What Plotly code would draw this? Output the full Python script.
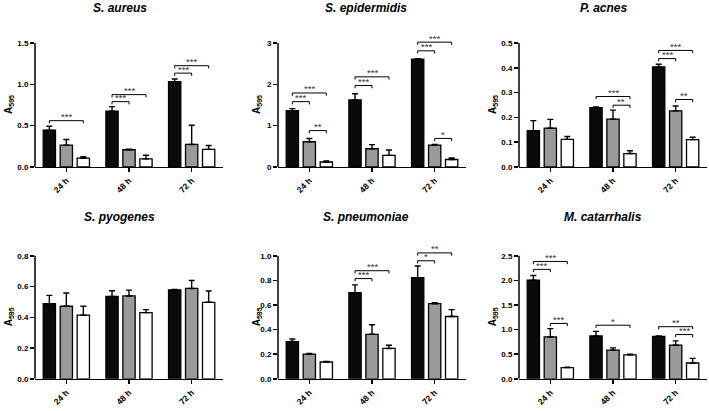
import plotly.graph_objects as go

W, H = 709, 411

categories = ["24 h", "48 h", "72 h"]
titles = ["S. aureus", "S. epidermidis", "P. acnes",
          "S. pyogenes", "S. pneumoniae", "M. catarrhalis"]

# series values per panel: black, gray, white (mean and upper SD)
black_vals = [[0.444, 0.674, 1.032], [1.36, 1.62, 2.61], [0.146, 0.239, 0.403],
              [0.489, 0.536, 0.579], [0.303, 0.700, 0.823], [2.004, 0.871, 0.865]]
black_err = [[0.048, 0.056, 0.032], [0.05, 0.15, 0.012], [0.041, 0.003, 0.011],
             [0.054, 0.037, 0.003], [0.021, 0.064, 0.094], [0.096, 0.094, 0.005]]
gray_vals = [[0.264, 0.208, 0.272], [0.61, 0.44, 0.53], [0.156, 0.193, 0.226],
             [0.472, 0.539, 0.588], [0.201, 0.362, 0.611], [0.851, 0.583, 0.684]]
gray_err = [[0.068, 0.006, 0.232], [0.08, 0.10, 0.015], [0.036, 0.036, 0.02],
            [0.086, 0.038, 0.052], [0.005, 0.078, 0.008], [0.169, 0.047, 0.087]]
white_vals = [[0.106, 0.098, 0.212], [0.12, 0.28, 0.18], [0.111, 0.054, 0.110],
              [0.414, 0.431, 0.498], [0.137, 0.247, 0.507], [0.228, 0.489, 0.322]]
white_err = [[0.018, 0.044, 0.048], [0.025, 0.13, 0.035], [0.012, 0.011, 0.01],
             [0.058, 0.019, 0.073], [0.005, 0.026, 0.056], [0.007, 0.011, 0.094]]

# y axis maxima and tick values
y_max = [1.5, 3.0, 0.5, 0.8, 1.0, 2.5]
y_ticks = [[0, 0.5, 1.0, 1.5], [0, 1, 2, 3], [0, 0.1, 0.2, 0.3, 0.4, 0.5],
           [0, 0.2, 0.4, 0.6, 0.8], [0, 0.2, 0.4, 0.6, 0.8, 1.0],
           [0, 0.5, 1.0, 1.5, 2.0, 2.5]]
y_fmt = [".1f", ".0f", ".1f", ".1f", ".1f", ".1f"]

# significance brackets: (group index, bar i, bar j, height, label)
brackets = [
    [(0, 0, 2, 0.56, "***"), (1, 0, 1, 0.79, "***"), (1, 0, 2, 0.875, "***"),
     (2, 0, 1, 1.135, "***"), (2, 0, 2, 1.225, "***")],
    [(0, 0, 1, 1.58, "***"), (0, 0, 2, 1.79, "***"), (0, 1, 2, 0.88, "**"),
     (1, 0, 1, 1.97, "***"), (1, 0, 2, 2.18, "***"),
     (2, 0, 1, 2.81, "***"), (2, 0, 2, 3.02, "***"), (2, 1, 2, 0.69, "*")],
    [(1, 0, 2, 0.284, "***"), (1, 1, 2, 0.249, "**"),
     (2, 0, 1, 0.437, "***"), (2, 0, 2, 0.47, "***"), (2, 1, 2, 0.272, "**")],
    [],
    [(1, 0, 1, 0.815, "***"), (1, 0, 2, 0.879, "***"),
     (2, 0, 1, 0.96, "*"), (2, 0, 2, 1.024, "**")],
    [(0, 0, 1, 2.225, "***"), (0, 0, 2, 2.386, "***"), (0, 1, 2, 1.126, "***"),
     (1, 0, 2, 1.09, "*"), (2, 0, 2, 1.06, "**"), (2, 1, 2, 0.90, "***")],
]

# ---------------- layout geometry (pixels) ----------------
FONT = "Liberation Sans"
col_px = [(35, 223), (278, 466), (519, 707)]
row_px = [(43.5, 169.0), (259.0, 383.5)]  # (pixel of y_max, pixel of zero)
HEAD = 1.08  # headroom factor so brackets above y_max stay visible
title_x_px = [120, 366, 603]
title_y_px = [8, 220]
ylab_x_px = [9, 257, 493]

BARGAP = 0.187
GROUPGAP = 0.277
slot = (1 - BARGAP) / 3

fills = ["#0a0a0a", "#9a9a9a", "#ffffff"]

fig = go.Figure()
layout = dict(
    width=W, height=H, margin=dict(l=0, r=0, t=0, b=0),
    paper_bgcolor="white", plot_bgcolor="white",
    barmode="group", bargap=BARGAP, bargroupgap=GROUPGAP,
    showlegend=False, font=dict(family=FONT, color="black"),
)
shapes = []
annotations = []

for p in range(6):
    r, c = divmod(p, 3)
    n = p + 1
    xs = "" if n == 1 else str(n)
    xname, yname = "x" + xs, "y" + xs
    series = [(black_vals[p], black_err[p]), (gray_vals[p], gray_err[p]),
              (white_vals[p], white_err[p])]
    for k, (vals, errs) in enumerate(series):
        fig.add_trace(go.Bar(
            x=[0, 1, 2], y=vals, xaxis=xname, yaxis=yname,
            marker=dict(color=fills[k], line=dict(color="#000000", width=1.3)),
            error_y=dict(type="data", symmetric=False, array=errs,
                         arrayminus=[0] * len(errs), color="#000000",
                         thickness=1.4, width=3),
            hoverinfo="skip",
        ))
    x0p, x1p = col_px[c]
    ytop, yzero = row_px[r]
    dom_top = yzero - (yzero - ytop) * HEAD
    layout["xaxis" + xs] = dict(
        domain=[x0p / W, x1p / W], range=[-0.5, 2.5], anchor=yname,
        tickmode="array", tickvals=[0, 1, 2], ticktext=categories,
        tickangle=-45, ticks="outside", ticklen=4, tickwidth=1.5,
        tickcolor="black", showline=True, linecolor="black", linewidth=1.5,
        showgrid=False, zeroline=False,
        tickfont=dict(family=FONT, size=8.5, weight="bold", color="black"),
    )
    layout["yaxis" + xs] = dict(
        domain=[1 - yzero / H, 1 - dom_top / H],
        range=[0, y_max[p] * HEAD], anchor=xname,
        tickmode="array", tickvals=y_ticks[p], tickformat=y_fmt[p],
        ticks="outside", ticklen=4, tickwidth=1.5, tickcolor="black",
        showline=False, showgrid=False, zeroline=False,
        tickfont=dict(family=FONT, size=8, weight="bold", color="black"),
    )
    # visible y-axis line ending at the top tick
    shapes.append(dict(type="line", xref=xname + " domain", yref=yname,
                       x0=0, x1=0, y0=0, y1=y_max[p],
                       line=dict(color="black", width=1.5)))
    # brackets
    d = y_max[p] * 0.022
    for (g, i, j, h, lab) in brackets[p]:
        xa = g + (i - 1) * slot
        xb = g + (j - 1) * slot
        shapes.append(dict(
            type="path", xref=xname, yref=yname,
            path=f"M {xa},{h - d} L {xa},{h} L {xb},{h} L {xb},{h - d}",
            line=dict(color="black", width=1)))
        annotations.append(dict(
            x=(xa + xb) / 2, y=h, xref=xname, yref=yname, text=lab,
            showarrow=False, yanchor="bottom", yshift=-3.5,
            font=dict(family=FONT, size=9.5, color="#333333")))
    # panel title
    annotations.append(dict(
        x=title_x_px[c] / W, y=1 - title_y_px[r] / H, xref="paper",
        yref="paper", text=f"<b><i>{titles[p]}</i></b>", showarrow=False,
        xanchor="center", yanchor="middle",
        font=dict(family=FONT, size=12, color="black")))
    # y-axis label
    annotations.append(dict(
        x=ylab_x_px[c] / W, y=1 - (ytop + yzero) / 2 / H, xref="paper",
        yref="paper", text="<b>A<sub>595</sub></b>", showarrow=False,
        textangle=-90, xanchor="center", yanchor="middle",
        font=dict(family=FONT, size=10, color="black")))

layout["shapes"] = shapes
layout["annotations"] = annotations
fig.update_layout(**layout)
fig.write_html(
    "out.html",
    config={"displayModeBar": False, "staticPlot": True},
    post_script="document.body.style.margin='0';document.body.style.overflow='hidden';",
)
